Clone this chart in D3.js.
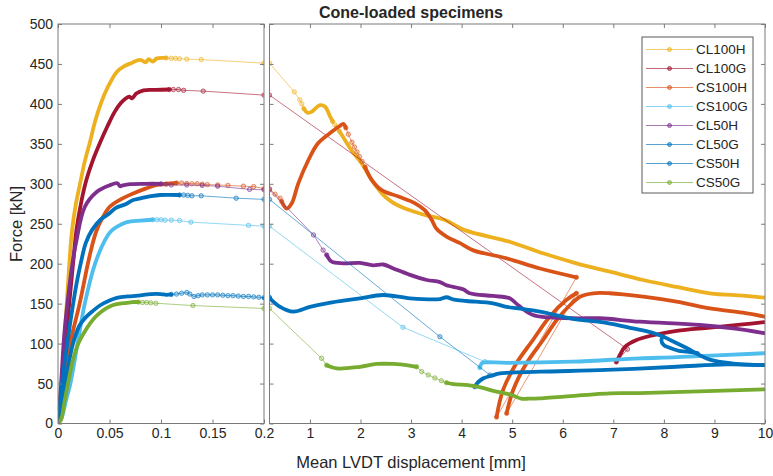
<!DOCTYPE html>
<html>
<head>
<meta charset="utf-8">
<script src="https://cdn.jsdelivr.net/npm/d3@7"></script>
<style>
  body { margin: 0; background: #fff; }
  text { font-family: "Liberation Sans", Arial, Helvetica, sans-serif; fill: #262626; }
</style>
</head>
<body>
<svg id="chart" width="773" height="476"></svg>
<script>
// legend order
const names = ["CL100H", "CL100G", "CS100H", "CS100G", "CL50H", "CL50G", "CS50H", "CS50G"];
const colors = ["#EDB120", "#A2142F", "#D95319", "#4DBEEE", "#7E2F8E", "#0072BD", "#0072BD", "#77AC30"];

// x ticks of the two panels, y ticks
const xTicksLeft = [0, 0.05, 0.1, 0.15, 0.2];
const xTicksRight = [1, 2, 3, 4, 5, 6, 7, 8, 9, 10];
const yTicks = [0, 50, 100, 150, 200, 250, 300, 350, 400, 450, 500];

// measured traces (dense records) per series: list of segments of [displacement mm, force kN]
const cl100hTrace = [
  [[0,0],[0.004,60],[0.008,140],[0.011,200],[0.0135,240],[0.017,272],[0.0214,300],[0.026,328],[0.031,352],[0.036,378],[0.042,402],[0.048,420],[0.057,440],[0.064,447],[0.071,451],[0.08,455],[0.085,452],[0.088,456],[0.092,453],[0.096,457],[0.105,457.5]],
  [[0.88,394],[0.95,389],[1.03,390],[1.12,395],[1.2,398.5],[1.3,396.5],[1.4,384],[1.45,378]],
  [[1.58,366],[1.63,361],[1.82,342],[2.02,325.7],[2.22,305],[2.42,288],[2.61,277.6],[2.88,269],[3.27,261],[3.67,254.7],[4.06,242],[4.95,227.5],[5.61,213],[6.27,200.5],[6.93,190],[7.59,179.6],[8.25,171],[8.91,163],[9.56,160],[10,157.5]]
];
const cl100gTrace = [
  [[0,0],[0.004,50],[0.008,110],[0.012,165],[0.015,205],[0.018,243],[0.023,280],[0.0278,306],[0.034,330],[0.041,352],[0.048,372],[0.055,390],[0.061,401],[0.066,407],[0.069,409],[0.072,407],[0.076,413],[0.083,417],[0.095,417.5],[0.108,418]],
  [[7.06,77],[7.15,88],[7.23,96],[7.46,104.5],[7.72,109.5],[8.25,116],[8.91,120],[9.56,124],[10,127]]
];
const cs100hTrace = [
  [[0,0],[0.003,25],[0.0052,50],[0.0117,100],[0.021,150],[0.029,200],[0.033,222],[0.037,240],[0.043,257],[0.05,271],[0.06,280],[0.073,288],[0.085,294],[0.096,298.5],[0.115,301]],
  [[0.44,278],[0.54,269],[0.64,275.6],[0.77,300.6],[0.97,329.8],[1.16,350.7],[1.43,365],[1.59,372.3],[1.66,375],[1.71,370]],
  [[2.09,321],[2.22,305],[2.42,292],[2.75,284],[3.08,275.6],[3.27,267],[3.41,254.7],[3.5,244],[3.7,234],[3.96,226],[4.22,217],[4.89,206.7],[5.55,194],[6.27,183]],
  [[4.69,8],[4.82,42],[5.08,75],[5.41,104.5],[5.74,133.7],[6.07,154.6],[6.27,163]],
  [[4.89,12.7],[5.02,42],[5.28,75],[5.61,104.5],[5.88,129.5],[6.14,148],[6.34,158.7],[6.6,163],[6.93,163],[7.59,158.7],[8.25,152.5],[8.91,144],[9.56,138.7],[10,133.7]]
];
const cs100gTrace = [
  [[0,0],[0.003,5],[0.008,30],[0.012,50],[0.019,100],[0.026,150],[0.036,200],[0.0456,229.6],[0.051,240],[0.057,246],[0.0667,252],[0.08,254],[0.092,255]],
  [[4.36,70],[4.4,75.5],[4.45,76.5],[4.89,76],[6.2,77.4],[7.52,81.6],[8.25,83],[10,88]]
];
const cl50hTrace = [
  [[0,0],[0.003,50],[0.006,110],[0.01,160],[0.014,200],[0.018,229.6],[0.026,271],[0.0375,289.7],[0.05,298],[0.0576,300.7],[0.0602,297],[0.063,298],[0.07,299.5],[0.085,300],[0.1,300]],
  [[1.33,211],[1.43,202.5],[1.66,200.5],[1.99,201],[2.25,198],[2.45,199],[2.65,194],[2.98,186],[3.31,179.6],[3.57,177],[3.7,173],[4.03,168],[4.16,163],[4.62,159.6],[4.95,156.7],[5.12,148],[5.41,135.8],[6.2,131.7],[6.73,131.7],[7.52,127.4],[8.71,123.3],[9.37,119],[10,113]]
];
const cl50gTrace = [
  [[0,0],[0.004,50],[0.009,100],[0.0135,140],[0.018,175],[0.022,200],[0.027,226],[0.033,242],[0.041,254.7],[0.05,263],[0.0563,270],[0.065,274],[0.073,279.7],[0.08,281.8],[0.09,284.5],[0.099,286],[0.118,286]],
  [[4.26,46],[4.33,52],[4.43,56.6],[4.6,60],[4.76,62.8],[5.55,64.8],[6.86,67],[8.25,71],[9.24,74],[10,73]]
];
const cs50hTrace = [
  [[0,0],[0.004,30],[0.009,65],[0.0146,100],[0.021,123],[0.027,133],[0.034,141],[0.041,148],[0.05,154],[0.058,157.5],[0.068,159],[0.078,160],[0.09,162],[0.1,162],[0.105,161],[0.11,161.5]],
  [[0.2,157],[0.41,146],[0.67,140],[1.0,146],[1.33,150.4],[1.66,153.7],[1.99,156.7],[2.45,160.8],[2.98,156.7],[3.57,155.8],[3.7,158],[3.85,155],[4.1,153.3],[4.62,150.4],[4.89,146],[5.12,144],[5.55,140],[6.2,131],[6.86,126],[7.39,119],[7.75,114],[7.98,109]],
  [[7.98,109],[7.95,104],[8.0,98],[8.1,95],[8.3,91],[8.45,90],[8.67,88]],
  [[7.98,109],[8.4,96],[8.91,80],[9.37,75],[10,73]]
];
const cs50gTrace = [
  [[0,0],[0.003,5],[0.006,25],[0.0097,50],[0.0146,80],[0.0197,100],[0.025,113],[0.031,125],[0.036,133],[0.042,140],[0.048,145],[0.053,148],[0.06,150],[0.0667,151],[0.072,152],[0.078,152]],
  [[1.33,73],[1.53,69],[1.99,71],[2.32,74.5],[2.65,74.5],[2.91,73.2],[3.11,71]],
  [[3.7,51],[3.83,49.4],[4.23,47],[4.69,40],[4.99,35.7],[5.18,31],[5.3,31],[5.55,31.5],[6.93,37.8],[7.52,38],[10,42.8]]
];

// sparse recorded samples (shown as markers on a thin line): list of runs
const cl100hSamples = [
  [[0.105,457.5],[0.11,457],[0.114,457],[0.118,456.5],[0.125,456],[0.139,455.5],[0.2,451],[0.69,415],[0.8,405],[0.84,400],[0.88,394]],
  [[1.45,378],[1.49,374],[1.53,371],[1.58,366]]
];
const cl100gSamples = [
  [[0.108,418],[0.112,418],[0.117,418],[0.122,417],[0.141,416],[0.2,411],[7.28,93],[7.06,77]]
];
const cs100hSamples = [
  [[0.115,301],[0.12,301],[0.125,300.5],[0.13,300],[0.135,300],[0.14,299.5],[0.145,299],[0.155,298.5],[0.165,298],[0.18,297],[0.19,296.5],[0.2,294],[0.31,287],[0.41,282],[0.44,278]],
  [[1.71,370],[1.76,362],[1.83,352],[1.88,346],[1.93,340],[1.98,334],[2.03,328],[2.09,321]],
  [[6.27,183],[4.69,8]],
  [[6.27,163],[4.89,12.7]]
];
const cs100gSamples = [
  [[0.092,255],[0.096,255],[0.1,255],[0.104,254.5],[0.11,254.5],[0.118,254],[0.129,252],[0.185,248],[0.2,247],[2.84,120.4],[4.46,77.4],[4.36,70]]
];
const cl50hSamples = [
  [[0.1,300],[0.105,299.5],[0.11,298.5],[0.125,298.5],[0.14,298],[0.155,297],[0.186,293],[0.2,292.5],[1.07,236],[1.26,217],[1.33,211]]
];
const cl50gSamples = [
  [[0.118,286],[0.122,286],[0.126,285.5],[0.13,285],[0.139,285],[0.173,282],[0.2,280.5],[3.57,108.6],[4.56,60.7],[4.26,46]]
];
const cs50hSamples = [
  [[0.11,161.5],[0.115,162],[0.12,163],[0.125,164],[0.128,162],[0.132,159],[0.136,160],[0.14,161],[0.145,161],[0.15,161],[0.155,161],[0.16,160.5],[0.165,160],[0.17,160],[0.175,159.5],[0.18,159],[0.185,159],[0.19,158.5],[0.195,158],[0.2,157.5]]
];
const cs50gSamples = [
  [[0.078,152],[0.082,151.5],[0.086,151.5],[0.09,151],[0.095,150.5],[0.131,147.6],[0.2,144],[1.23,81.6],[1.33,73]],
  [[3.11,71],[3.21,65],[3.34,60.7],[3.47,57],[3.6,53.6],[3.7,51]]
];

const traces = [cl100hTrace, cl100gTrace, cs100hTrace, cs100gTrace, cl50hTrace, cl50gTrace, cs50hTrace, cs50gTrace];
const samples = [cl100hSamples, cl100gSamples, cs100hSamples, cs100gSamples, cl50hSamples, cl50gSamples, cs50hSamples, cs50gSamples];
const series = names.map((n, i) => ({ name: n, color: colors[i], trace: traces[i], samples: samples[i] }));

const svg = d3.select("#chart");
const defs = svg.append("defs");

const plotTop = 24, plotBottom = 423.5;
const y = d3.scaleLinear().domain([0, 500]).range([plotBottom, plotTop]);
const xL = d3.scaleLinear().domain([0, 0.2]).range([58, 264]);
const xR = d3.scaleLinear().domain([0.2, 10]).range([269.5, 765]);

const panels = [
  { x: xL, lo: 0, hi: 0.2, id: "clipL", ticks: xTicksLeft },
  { x: xR, lo: 0.2, hi: 10, id: "clipR", ticks: xTicksRight }
];

panels.forEach(function (p) {
  const [r0, r1] = p.x.range();
  defs.append("clipPath").attr("id", p.id)
    .append("rect").attr("x", r0).attr("y", plotTop).attr("width", r1 - r0).attr("height", plotBottom - plotTop);

  const g = svg.append("g").attr("clip-path", `url(#${p.id})`);
  const thin = d3.line().x(d => p.x(d[0])).y(d => y(d[1]));
  const thick = d3.line().x(d => p.x(d[0])).y(d => y(d[1])).curve(d3.curveCatmullRom.alpha(0.5));
  const inPanel = d => d[0] >= p.lo - 0.005 && d[0] <= p.hi + 0.05;

  series.forEach(function (s) {
    // thin line through the sparse samples
    s.samples.forEach(run => {
      g.append("path").attr("d", thin(run))
        .attr("fill", "none").attr("stroke", s.color)
        .attr("stroke-opacity", 0.6).attr("stroke-width", 1);
    });
    // dense traces
    s.trace.filter(seg => inPanel(seg[0]) || inPanel(seg[seg.length - 1])).forEach(seg => {
      g.append("path").attr("d", thick(seg))
        .attr("fill", "none").attr("stroke", s.color)
        .attr("stroke-width", 3.8).attr("stroke-linejoin", "round").attr("stroke-linecap", "round");
    });
    // markers
    g.selectAll(null)
      .data(s.samples.flat().filter(inPanel))
      .join("circle")
      .attr("cx", d => p.x(d[0])).attr("cy", d => y(d[1])).attr("r", 2.2)
      .attr("fill", s.color).attr("fill-opacity", 0.25)
      .attr("stroke", s.color).attr("stroke-opacity", 0.7).attr("stroke-width", 0.9);
  });

  // box
  svg.append("rect").attr("x", r0).attr("y", plotTop).attr("width", r1 - r0).attr("height", plotBottom - plotTop)
    .attr("fill", "none").attr("stroke", "#7a7a7a").attr("stroke-width", 1);

  // x axis bottom (ticks inward)
  const xb = svg.append("g").attr("transform", `translate(0,${plotBottom})`)
    .call(d3.axisBottom(p.x).tickValues(p.ticks).tickSize(-4).tickPadding(5).tickFormat(d3.format("~g")));
  // x axis top (ticks only)
  const xt = svg.append("g").attr("transform", `translate(0,${plotTop})`)
    .call(d3.axisTop(p.x).tickValues(p.ticks).tickSize(-4).tickFormat(""));
  // y ticks on both sides
  const yl = svg.append("g").attr("transform", `translate(${r0},0)`)
    .call(d3.axisLeft(y).tickValues(yTicks).tickSize(-4).tickPadding(5)
      .tickFormat(p.id === "clipL" ? d3.format("~g") : ""));
  const yr = svg.append("g").attr("transform", `translate(${r1},0)`)
    .call(d3.axisRight(y).tickValues(yTicks).tickSize(-4).tickFormat(""));

  [xb, xt, yl, yr].forEach(a => {
    a.select(".domain").remove();
    a.selectAll(".tick line").attr("stroke", "#7a7a7a");
    a.selectAll(".tick text").style("font-size", "14px").attr("fill", "#333")
      .style("font-family", '"Liberation Sans", Arial, sans-serif');
  });
});

// title and axis labels
svg.append("text").attr("x", 411).attr("y", 17.5).attr("text-anchor", "middle")
  .style("font-size", "16px").style("font-weight", "bold").text("Cone-loaded specimens");
svg.append("text").attr("x", 411).attr("y", 468).attr("text-anchor", "middle")
  .style("font-size", "16.5px").attr("fill", "#333").text("Mean LVDT displacement [mm]");
svg.append("text").attr("transform", "translate(22,224) rotate(-90)").attr("text-anchor", "middle")
  .style("font-size", "16.5px").attr("fill", "#333").text("Force [kN]");

// legend
const leg = svg.append("g");
leg.append("rect").attr("x", 642).attr("y", 37).attr("width", 111).attr("height", 156)
  .attr("fill", "#fff").attr("stroke", "#5a5a5a").attr("stroke-width", 1);
series.forEach(function (s, i) {
  const ly = 49.5 + i * 19;
  leg.append("line").attr("x1", 646).attr("x2", 693).attr("y1", ly).attr("y2", ly)
    .attr("stroke", s.color).attr("stroke-opacity", 0.65).attr("stroke-width", 1.2);
  leg.append("circle").attr("cx", 669.5).attr("cy", ly).attr("r", 2)
    .attr("fill", s.color).attr("fill-opacity", 0.5).attr("stroke", s.color).attr("stroke-opacity", 0.7);
  leg.append("text").attr("x", 696).attr("y", ly).attr("dy", "0.36em")
    .style("font-size", "13.5px").text(s.name);
});
</script>
</body>
</html>
